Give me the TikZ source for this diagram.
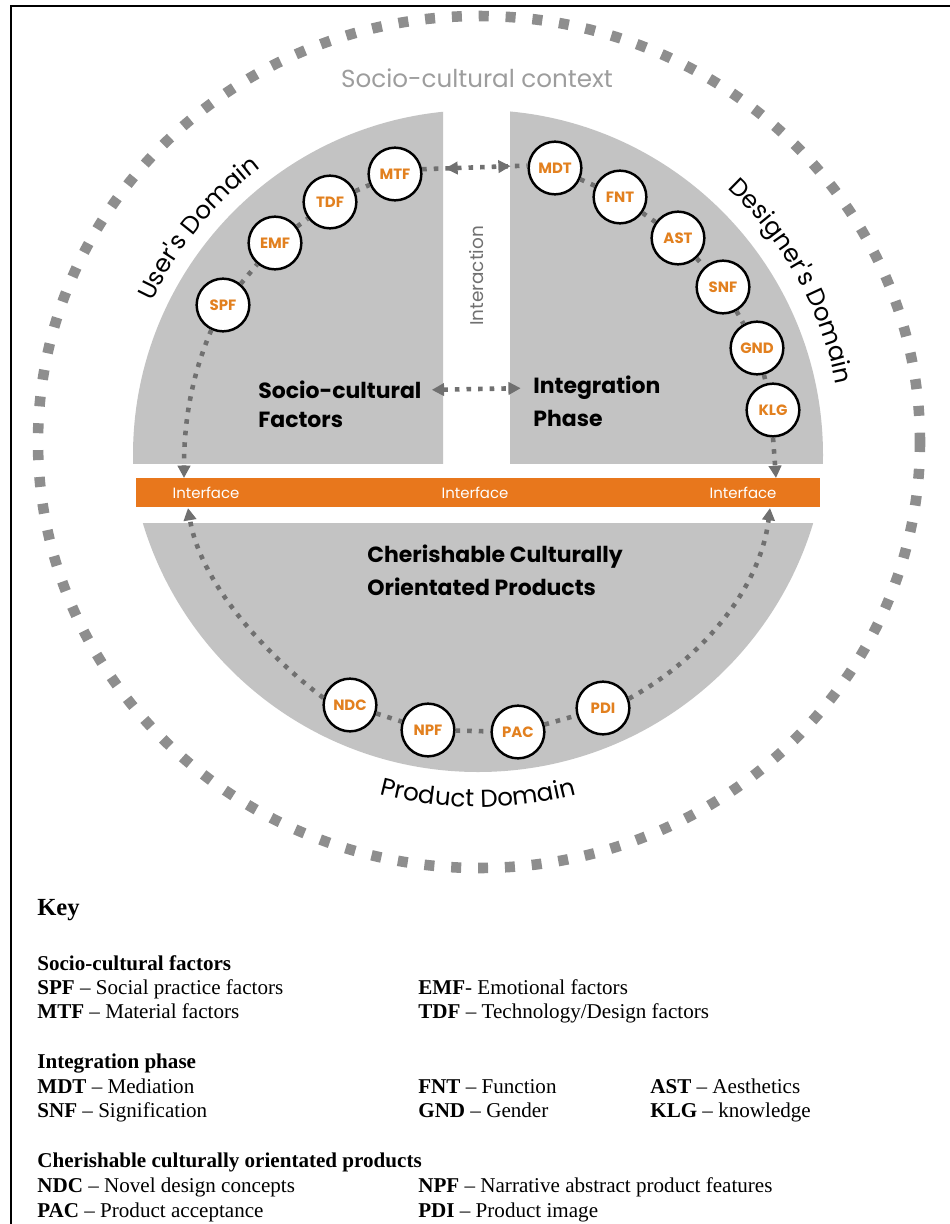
\documentclass[tikz,border=0pt]{standalone}
\usepackage{fontspec}
\setmainfont{Liberation Serif}
\newfontfamily\diag{Poppins}
\usepackage{tikz}
\usetikzlibrary{arrows.meta}
\usetikzlibrary{decorations.markings,decorations.text}
\usepackage{xcolor}
\definecolor{diskGray}{HTML}{C3C3C3}
\definecolor{ringGray}{HTML}{8E8E8E}
\definecolor{dotGray}{HTML}{707070}
\definecolor{ctxGray}{HTML}{9D9D9D}
\definecolor{barOrange}{HTML}{E8771C}
\definecolor{facOrange}{HTML}{E2801F}
\def\facSize{30pt}
\def\lineThickness{(1.4pt)}
\def\dotWidth{(2.6pt)}
\def\tipSize{7pt}
\def\domFont{\diag\fontsize{14}{16}\selectfont}
\def\keyFont{\fontsize{12}{14}\selectfont}
\tikzset{fac/.style={draw=black,line width=\lineThickness,fill=white,circle,minimum size=\facSize,inner sep=0,text=facOrange,font=\diag\bfseries\fontsize{8.5}{9}\selectfont}}
\tikzset{dots/.style={dotGray,line width=\dotWidth,dash pattern=on 2.6pt off 4pt}}
\tikzset{ring/.style={ringGray,line width=6pt,dash pattern=on 5.7pt off 9.6pt}}
\tikzset{tip/.style={-{Triangle[length=\tipSize,width=\tipSize]}}}
\tikzset{bitip/.style={{Triangle[length=\tipSize,width=\tipSize]}-{Triangle[length=\tipSize,width=\tipSize]}}}
\tikzset{midtips/.style={postaction={decorate},decoration={markings,mark=at position 0.22 with {\arrowreversed[dotGray]{Triangle[length=\tipSize,width=\tipSize]}},mark=at position 0.84 with {\arrow[dotGray]{Triangle[length=\tipSize,width=\tipSize]}}}}}
\tikzset{phase/.style={anchor=west,inner sep=0,font=\diag\bfseries\fontsize{12.5}{14}\selectfont}}
\tikzset{iface/.style={inner sep=0,text=white,font=\diag\fontsize{8.5}{10}\selectfont}}
\tikzset{keyhead/.style={anchor=base west,inner sep=0,font=\keyFont\bfseries}}
\tikzset{keyitem/.style={anchor=base west,inner sep=0,font=\keyFont}}
\newcommand{\domLabel}[2]{\path[decorate,decoration={text along path,text={|\domFont|#2},text align=center}] #1;}

\begin{document}
\begin{tikzpicture}[x=0.02cm,y=-0.02cm]
\useasboundingbox (0,0) rectangle (950,1224);
\draw[line width=1.7pt] (11,1224) -- (11,6) -- (950,6);
\draw[ring] (479,442) ellipse [x radius=441,y radius=426];
\begin{scope}\clip (0,0) rectangle (443,463);\fill[diskGray] (478,455) circle (345);\end{scope}
\begin{scope}\clip (510,0) rectangle (950,463);\fill[diskGray] (478,455) circle (345);\end{scope}
\begin{scope}\clip (0,523) rectangle (950,900);\fill[diskGray] (478,422) circle (350);\end{scope}
\fill[barOrange] (136,478) rectangle (820,507);
\foreach \i/\x in {1/206,2/475,3/743}{\node[iface] (iface\i) at (\x,493) {Interface};}
\node[text=ctxGray,inner sep=0,font=\diag\fontsize{14}{16}\selectfont] (context) at (477,78) {Socio-cultural context};
\node[rotate=90,text=dotGray,inner sep=0,font=\diag\fontsize{10.5}{12}\selectfont] (inter) at (477,276) {Interaction};
\domLabel{(478,455) ++(-175:360) arc[start angle=-175,end angle=-107,radius=360]}{User's Domain}
\domLabel{(478,455) ++(-64:365) arc[start angle=-64,end angle=6,radius=365]}{Designer's Domain}
\domLabel{(478,422) ++(110:385) arc[start angle=110,end angle=70,radius=385]}{Product Domain}
\node[phase] (scf1) at (258,390) {Socio-cultural};
\node[phase] (scf2) at (258,420) {Factors};
\node[phase] (int1) at (533,388) {Integration};
\node[phase] (int2) at (533,418) {Phase};
\node[phase] (cop1) at (367,557) {Cherishable Culturally};
\node[phase] (cop2) at (367,587) {Orientated Products};
\foreach \n/\p in {SPF/{223,305},EMF/{275,243},TDF/{330,202},MTF/{395,174},MDT/{555,168},FNT/{620,197},AST/{678,238},SNF/{723,287},GND/{757,348},KLG/{773,410},NDC/{350,705},NPF/{428,730},PAC/{518,732},PDI/{603,708}}{\node[fac] (\n) at (\p) {\n};}
\foreach \a/\b in {SPF/EMF,EMF/TDF,TDF/MTF,MDT/FNT,FNT/AST,AST/SNF,SNF/GND,GND/KLG,NDC/NPF,NPF/PAC,PAC/PDI}{\draw[dots] (\a) -- (\b);}
\coordinate (ifl-top) at (184,478);\coordinate (ifl-bot) at (188,508);
\coordinate (ifr-top) at (776,478);\coordinate (ifr-bot) at (770,508);
\draw[dots,midtips] (MTF.10) -- (MDT.175);
\draw[dots,bitip,shorten <=5.7pt,shorten >=7pt] (scf1.east) -- (int1.west);
\draw[dots,tip] (SPF.245) .. controls (192,375) and (184,420) .. (ifl-top);
\draw[dots,tip] (NDC.165) .. controls (260,650) and (200,580) .. (ifl-bot);
\draw[dots,tip] (KLG.south) -- (ifr-top);
\draw[dots,tip] (PDI.20) .. controls (700,660) and (760,590) .. (ifr-bot);
% key
\node[anchor=base west,inner sep=0,font=\bfseries\fontsize{14}{16}\selectfont] (key) at (37,915) {Key};
\node[keyhead] (h1) at (37,970) {Socio-cultural factors};
\node[keyhead] (h2) at (37,1068) {Integration phase};
\node[keyhead] (h3) at (37,1167) {Cherishable culturally orientated products};
\foreach \n/\x/\y/\t in {SPF/37/994/{~-- Social practice factors},EMF/418/994/{- Emotional factors},MTF/37/1018/{~-- Material factors},TDF/418/1018/{~-- Technology/Design factors},MDT/37/1093/{~-- Mediation},FNT/418/1093/{~-- Function},AST/650/1093/{~-- Aesthetics},SNF/37/1117/{~-- Signification},GND/418/1117/{~-- Gender},KLG/650/1117/{~-- knowledge},NDC/37/1192/{~-- Novel design concepts},NPF/418/1192/{~-- Narrative abstract product features},PAC/37/1217/{~-- Product acceptance},PDI/418/1217/{~-- Product image}}{\node[keyitem] (k\n) at (\x,\y) {\textbf{\n}\t};}
\end{tikzpicture}
\end{document}
